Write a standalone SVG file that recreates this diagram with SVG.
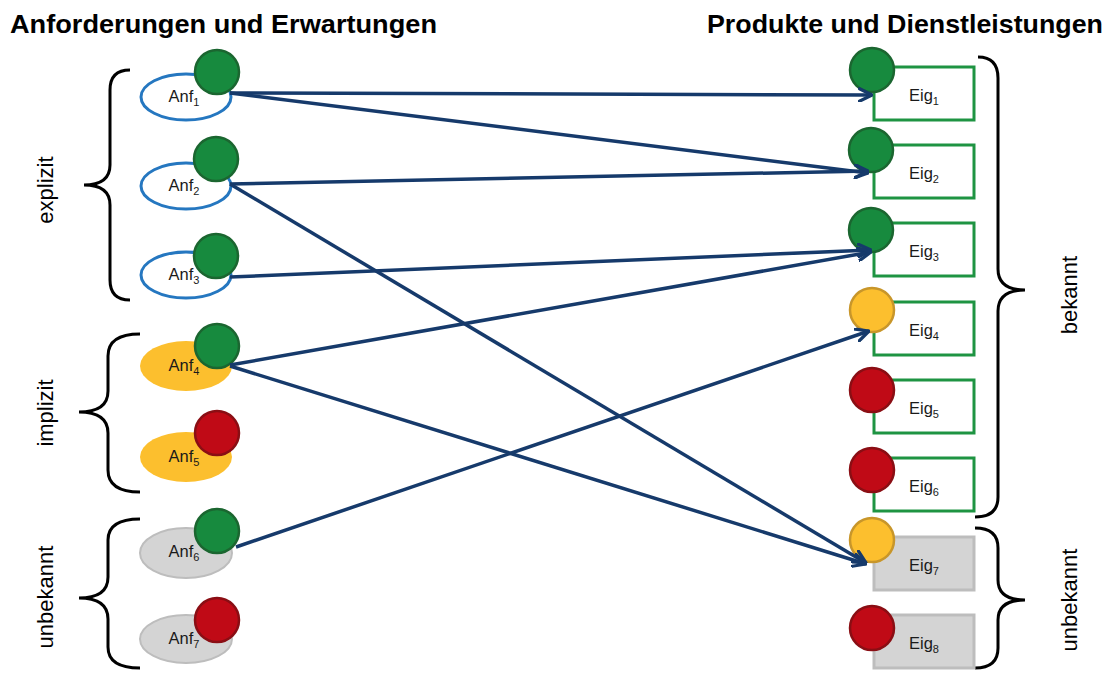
<svg xmlns="http://www.w3.org/2000/svg" width="1113" height="675" viewBox="0 0 1113 675">
<defs>
<style>
.title{font-family:"Liberation Sans",Arial,sans-serif;font-weight:bold;font-size:25px;fill:#000}
.lbl{font-family:"Liberation Sans",Arial,sans-serif;font-size:16.5px;fill:#1a1a1a}
.sub{font-size:11px}
.side{font-family:"Liberation Sans",Arial,sans-serif;font-size:22px;fill:#000}
.brace{fill:none;stroke:#000;stroke-width:3}
.eb{fill:#fff;stroke:#2577C0;stroke-width:3}
.ey{fill:#FCBF2E;stroke:none}
.eg{fill:#D4D4D4;stroke:#BDBDBD;stroke-width:2}
.rw{fill:#fff;stroke:#1E9442;stroke-width:3}
.rg{fill:#D4D4D4;stroke:#BDBDBD;stroke-width:3}
.cg{fill:#178A3E;stroke:#1B6630;stroke-width:2.5}
.cr{fill:#C00A16;stroke:#8A0E14;stroke-width:2.5}
.cy{fill:#FCBF2E;stroke:#C8962A;stroke-width:2.5}
.conn{fill:none;stroke:#163A6B;stroke-width:3.5;marker-end:url(#arr)}
</style>
<marker id="arr" viewBox="0 0 12 12" refX="11" refY="6" markerWidth="15" markerHeight="15" markerUnits="userSpaceOnUse" orient="auto">
<path d="M1,1 L11,6 L1,11" fill="none" stroke="#163A6B" stroke-width="2.6" stroke-linecap="round" stroke-linejoin="round"/>
</marker>
</defs>
<rect width="1113" height="675" fill="#fff"/>

<text class="title" x="10" y="33" textLength="427" lengthAdjust="spacingAndGlyphs">Anforderungen und Erwartungen</text>
<text class="title" x="707" y="33" textLength="396" lengthAdjust="spacingAndGlyphs">Produkte und Dienstleistungen</text>

<g id="braces">
<path class="brace" d="M130,70 Q110,70 110,90 L110,165 Q110,185 84,185 Q110,185 110,205 L110,280 Q110,300 130,300"/>
<path class="brace" d="M140,334 Q108,334 108,356 L108,391 Q108,412 79,412 Q108,412 108,433 L108,470 Q108,492 140,492"/>
<path class="brace" d="M140,519 Q108,519 108,540 L108,577 Q108,598 79,598 Q108,598 108,619 L108,647 Q108,668 140,668"/>
<path class="brace" d="M978,57 Q998,57 998,78 L998,269 Q998,290 1025,290 Q998,290 998,311 L998,497 Q998,517 975,517"/>
<path class="brace" d="M975,528 Q998,528 998,548 L998,580 Q998,600 1025,600 Q998,600 998,620 L998,648 Q998,668 975,668"/>
<text class="side" transform="translate(53,190) rotate(-90)" text-anchor="middle">explizit</text>
<text class="side" transform="translate(53,413) rotate(-90)" text-anchor="middle">implizit</text>
<text class="side" transform="translate(53,597) rotate(-90)" text-anchor="middle">unbekannt</text>
<text class="side" transform="translate(1077,295) rotate(-90)" text-anchor="middle">bekannt</text>
<text class="side" transform="translate(1077,600) rotate(-90)" text-anchor="middle">unbekannt</text>
</g>

<g id="anf1"><ellipse class="eb" cx="186" cy="97" rx="45" ry="23"/><text class="lbl" x="184" y="102" text-anchor="middle">Anf<tspan class="sub" dy="4">1</tspan></text><circle class="cg" cx="217" cy="72" r="22"/></g>
<g id="anf2"><ellipse class="eb" cx="186" cy="186" rx="45" ry="23"/><text class="lbl" x="184" y="191" text-anchor="middle">Anf<tspan class="sub" dy="4">2</tspan></text><circle class="cg" cx="216" cy="159" r="22"/></g>
<g id="anf3"><ellipse class="eb" cx="186" cy="275" rx="45" ry="23"/><text class="lbl" x="184" y="280" text-anchor="middle">Anf<tspan class="sub" dy="4">3</tspan></text><circle class="cg" cx="216" cy="256" r="22"/></g>
<g id="anf4"><ellipse class="ey" cx="186" cy="366" rx="46" ry="25"/><text class="lbl" x="184" y="371" text-anchor="middle">Anf<tspan class="sub" dy="4">4</tspan></text><circle class="cg" cx="217" cy="346" r="22"/></g>
<g id="anf5"><ellipse class="ey" cx="186" cy="457" rx="46" ry="25"/><text class="lbl" x="184" y="462" text-anchor="middle">Anf<tspan class="sub" dy="4">5</tspan></text><circle class="cr" cx="217" cy="433" r="22"/></g>
<g id="anf6"><ellipse class="eg" cx="186" cy="553" rx="46" ry="25"/><text class="lbl" x="184" y="557" text-anchor="middle">Anf<tspan class="sub" dy="4">6</tspan></text><circle class="cg" cx="217" cy="531" r="22"/></g>
<g id="anf7"><ellipse class="eg" cx="186" cy="639" rx="46" ry="24"/><text class="lbl" x="184" y="644" text-anchor="middle">Anf<tspan class="sub" dy="4">7</tspan></text><circle class="cr" cx="217" cy="620" r="22"/></g>

<g id="eig1"><rect class="rw" x="874" y="67" width="100" height="53"/><text class="lbl" x="924" y="101" text-anchor="middle">Eig<tspan class="sub" dy="4">1</tspan></text><circle class="cg" cx="872" cy="70" r="22"/></g>
<g id="eig2"><rect class="rw" x="874" y="145" width="100" height="53"/><text class="lbl" x="924" y="179" text-anchor="middle">Eig<tspan class="sub" dy="4">2</tspan></text><circle class="cg" cx="871" cy="150" r="22"/></g>
<g id="eig3"><rect class="rw" x="874" y="223" width="100" height="53"/><text class="lbl" x="924" y="257" text-anchor="middle">Eig<tspan class="sub" dy="4">3</tspan></text><circle class="cg" cx="871" cy="230" r="22"/></g>
<g id="eig4"><rect class="rw" x="874" y="302" width="100" height="53"/><text class="lbl" x="924" y="336" text-anchor="middle">Eig<tspan class="sub" dy="4">4</tspan></text><circle class="cy" cx="872" cy="310" r="22"/></g>
<g id="eig5"><rect class="rw" x="874" y="380" width="100" height="53"/><text class="lbl" x="924" y="414" text-anchor="middle">Eig<tspan class="sub" dy="4">5</tspan></text><circle class="cr" cx="872" cy="390" r="22"/></g>
<g id="eig6"><rect class="rw" x="874" y="458" width="100" height="53"/><text class="lbl" x="924" y="492" text-anchor="middle">Eig<tspan class="sub" dy="4">6</tspan></text><circle class="cr" cx="872" cy="470" r="22"/></g>
<g id="eig7"><rect class="rg" x="874" y="537" width="100" height="53"/><text class="lbl" x="924" y="571" text-anchor="middle">Eig<tspan class="sub" dy="4">7</tspan></text><circle class="cy" cx="872" cy="540" r="22"/></g>
<g id="eig8"><rect class="rg" x="874" y="615" width="100" height="53"/><text class="lbl" x="924" y="649" text-anchor="middle">Eig<tspan class="sub" dy="4">8</tspan></text><circle class="cr" cx="872" cy="628" r="22"/></g>

<g id="connectors">
<line class="conn" x1="230" y1="93" x2="872" y2="95"/>
<line class="conn" x1="230" y1="93" x2="868" y2="173"/>
<line class="conn" x1="230" y1="184" x2="868" y2="171"/>
<line class="conn" x1="230" y1="184" x2="866" y2="563"/>
<line class="conn" x1="230" y1="277" x2="871" y2="250"/>
<line class="conn" x1="230" y1="365" x2="871" y2="252"/>
<line class="conn" x1="230" y1="366" x2="866" y2="564"/>
<line class="conn" x1="236" y1="547" x2="869" y2="331"/>
</g>
</svg>
